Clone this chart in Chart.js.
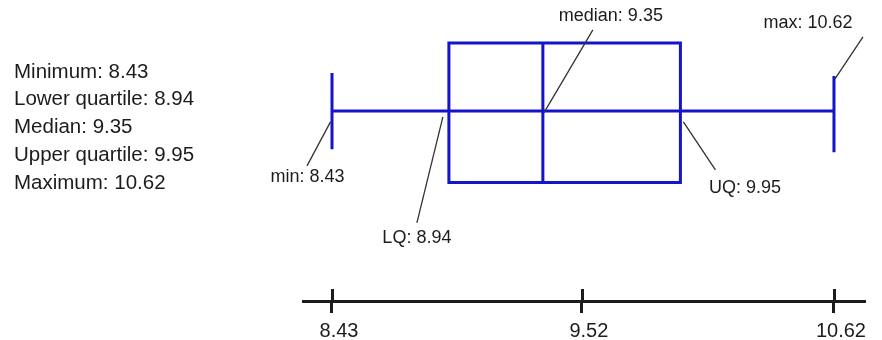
<!DOCTYPE html>
<html><head><meta charset="utf-8">
<script src="https://cdn.jsdelivr.net/npm/chart.js@4/dist/chart.umd.min.js"></script>
<style>html,body{margin:0;padding:0;background:#fff}#wrap{width:882px;height:340px;position:relative}</style>
</head><body><div id="wrap"><canvas id="c" width="882" height="340"></canvas></div>
<script>
// ---- data ----
const statNames  = ['Minimum', 'Lower quartile', 'Median', 'Upper quartile', 'Maximum'];
const shortNames = ['min', 'LQ', 'median', 'UQ', 'max'];
const statValues = [8.43, 8.94, 9.35, 9.95, 10.62];
const tickValues = [8.43, 9.52, 10.62];
const tickLabels = ['8.43', '9.52', '10.62'];

// ---- styles / layout ----
const BLUE = '#1414cc';
const INK = '#1c1c1c';
const FONT = '"Liberation Sans", Arial, Helvetica, sans-serif';
const [vMin, vLQ, vMed, vUQ, vMax] = statValues;
const BOX_TOP = 0.975, BOX_BOTTOM = -1.03;
// leader line and label offsets (pixels) relative to (value pixel, whisker pixel)
const annot = [
  {from:[-1.5, 11],  to:[-25, 55],  label:[-24.5, 66]},
  {from:[-6, 6],     to:[-32, 112], label:[-32, 127]},
  {from:[1, 2],      to:[50, -81],  label:[68, -95]},
  {from:[3, 11],     to:[35, 59],   label:[64.5, 77]},
  {from:[1, -32],    to:[29, -74],  label:[-26, -88]}
];

function seg(points, cap){
  return {type:'scatter', showLine:true, data:points, borderColor:BLUE, backgroundColor:BLUE,
    borderWidth:3, pointRadius:0, borderJoinStyle:'miter', borderCapStyle:cap || 'butt', tension:0};
}

const overlay = {
  id:'overlay',
  afterDraw(chart){
    const ctx = chart.ctx, xs = chart.scales.x, ys = chart.scales.y, ca = chart.chartArea;
    ctx.save();
    // upward half of tick marks
    ctx.strokeStyle = INK; ctx.lineWidth = 3;
    tickValues.forEach(v => {
      const x = Math.round(xs.getPixelForValue(v)) + 0.5;
      ctx.beginPath(); ctx.moveTo(x, ca.bottom - 12); ctx.lineTo(x, ca.bottom); ctx.stroke();
    });
    // summary text block
    ctx.fillStyle = INK; ctx.font = '20.5px ' + FONT; ctx.textBaseline = 'middle'; ctx.textAlign = 'left';
    statNames.forEach((n, i) => ctx.fillText(n + ': ' + statValues[i].toFixed(2), 14, 72 + i * 27.8));
    // annotations
    const wy = ys.getPixelForValue(0);
    ctx.font = '18px ' + FONT; ctx.textAlign = 'center';
    ctx.strokeStyle = '#333'; ctx.lineWidth = 1.3;
    statValues.forEach((v, i) => {
      const px = xs.getPixelForValue(v), a = annot[i];
      ctx.beginPath(); ctx.moveTo(px + a.from[0], wy + a.from[1]); ctx.lineTo(px + a.to[0], wy + a.to[1]); ctx.stroke();
      ctx.fillText(shortNames[i] + ': ' + v.toFixed(2), px + a.label[0], wy + a.label[1]);
    });
    ctx.restore();
  }
};

new Chart(document.getElementById('c'), {
  type:'scatter',
  data:{datasets:[
    seg([{x:vMin, y:0}, {x:vMax, y:0}]),
    seg([{x:vLQ, y:BOX_TOP}, {x:vUQ, y:BOX_TOP}, {x:vUQ, y:BOX_BOTTOM}, {x:vLQ, y:BOX_BOTTOM}, {x:vLQ, y:BOX_TOP}], 'square'),
    seg([{x:vMed, y:BOX_TOP}, {x:vMed, y:BOX_BOTTOM}]),
    seg([{x:vMin, y:0.545}, {x:vMin, y:-0.55}]),
    seg([{x:vMax, y:0.50}, {x:vMax, y:-0.595}])
  ]},
  options:{
    responsive:false, animation:false, devicePixelRatio:1,
    layout:{padding:{left:303, right:18, top:0, bottom:-9}},
    plugins:{legend:{display:false}, tooltip:{enabled:false}},
    scales:{
      x:{type:'linear', min:8.3035, max:10.751,
        afterBuildTicks(s){ s.ticks = tickValues.map(v => ({value:v})); },
        ticks:{callback:(v, i) => tickLabels[i], color:INK, font:{size:20, family:FONT}, padding:6, labelOffset:7, maxRotation:0, autoSkip:false},
        grid:{drawOnChartArea:false, drawTicks:true, tickLength:12, color:INK, lineWidth:3},
        border:{display:true, color:INK, width:3}
      },
      y:{type:'linear', display:false, min:-2.731, max:1.593}
    }
  },
  plugins:[overlay]
});
</script>
</body></html>
